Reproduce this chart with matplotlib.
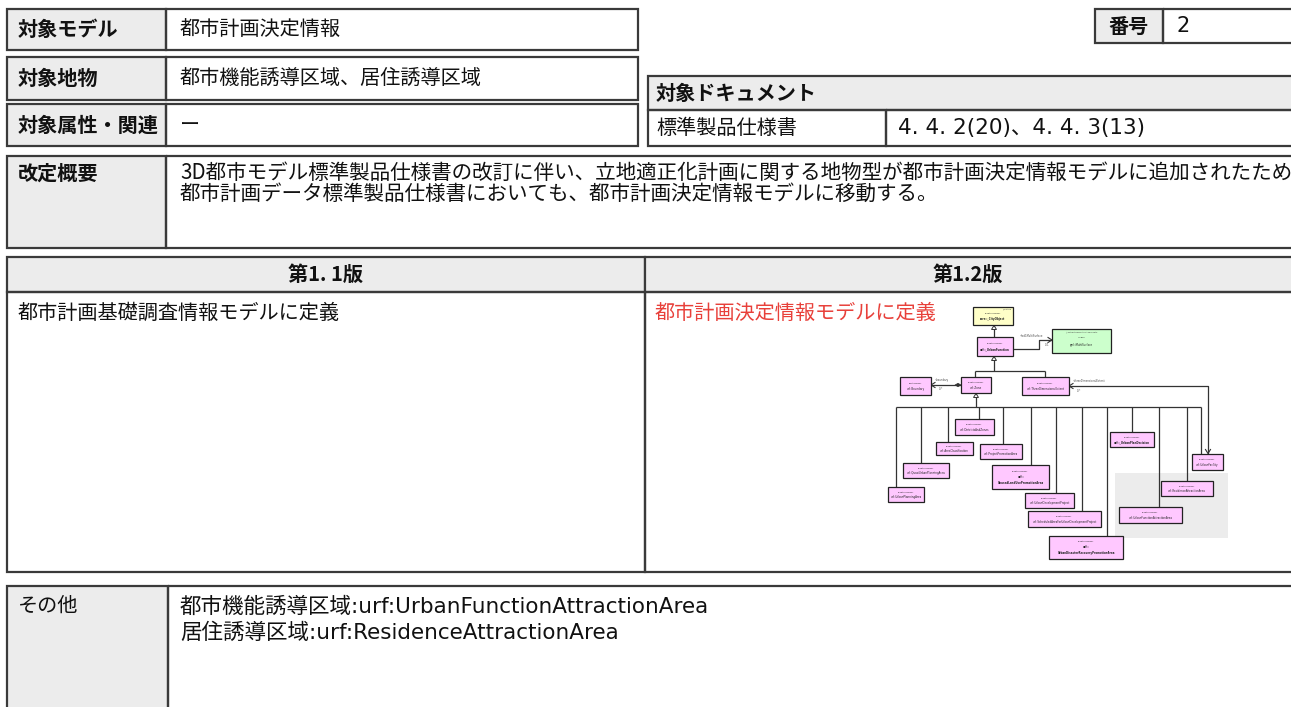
import matplotlib
matplotlib.use("Agg")
import matplotlib.pyplot as plt
from matplotlib.patches import Rectangle, Polygon
import math

plt.rcParams['font.family'] = ['Noto Sans CJK JP', 'DejaVu Sans']

# ---------------- content ----------------
header_labels = ["対象モデル", "対象地物", "対象属性・関連"]
header_values = ["都市計画決定情報", "都市機能誘導区域、居住誘導区域", "ー"]
number_label = "番号"
number_value = "2"
doc_title = "対象ドキュメント"
doc_name = "標準製品仕様書"
doc_sections = "4. 4. 2(20)、4. 4. 3(13)"
summary_label = "改定概要"
summary_lines = [
    "3D都市モデル標準製品仕様書の改訂に伴い、立地適正化計画に関する地物型が都市計画決定情報モデルに追加されたため",
    "都市計画データ標準製品仕様書においても、都市計画決定情報モデルに移動する。",
]
version_headers = ["第1. 1版", "第1.2版"]
version_old = "都市計画基礎調査情報モデルに定義"
version_new = "都市計画決定情報モデルに定義"
other_label = "その他"
other_lines = [
    "都市機能誘導区域:urf:UrbanFunctionAttractionArea",
    "居住誘導区域:urf:ResidenceAttractionArea",
]

# UML class boxes: (name lines, stereotype, fill, bold)
uml_names = {
    "city": (["core::_CityObject"], "«FeatureType»", "#ffffc8", True),
    "uf": (["urf::_UrbanFunction"], "«FeatureType»", "#ffc8ff", True),
    "ms": (["gml::MultiSurface"], "«Type»", "#ccffcc", False),
    "bnd": (["urf::Boundary"], "«DataType»", "#ffc8ff", False),
    "zone": (["urf::Zone"], "«FeatureType»", "#ffc8ff", False),
    "tde": (["urf::ThreeDimensionalExtent"], "«FeatureType»", "#ffc8ff", False),
    "dz": (["urf::DistrictsAndZones"], "«FeatureType»", "#ffc8ff", False),
    "ac": (["urf::AreaClassification"], "«FeatureType»", "#ffc8ff", False),
    "ppa": (["urf::ProjectPromotionArea"], "«FeatureType»", "#ffc8ff", False),
    "qupa": (["urf::QuasiUrbanPlanningArea"], "«FeatureType»", "#ffc8ff", False),
    "upa": (["urf::UrbanPlanningArea"], "«FeatureType»", "#ffc8ff", False),
    "ulu": (["urf::", "UnusedLandUsePromotionArea"], "«FeatureType»", "#ffc8ff", True),
    "udp": (["urf::UrbanDevelopmentProject"], "«FeatureType»", "#ffc8ff", False),
    "sa": (["urf::ScheduledAreaForUrbanDevelopmentProject"], "«FeatureType»", "#ffc8ff", False),
    "udr": (["urf::", "UrbanDisasterRecoveryPromotionArea"], "«FeatureType»", "#ffc8ff", True),
    "upd": (["urf::_UrbanPlanDecision"], "«FeatureType»", "#ffc8ff", True),
    "ufac": (["urf::UrbanFacility"], "«FeatureType»", "#ffc8ff", False),
    "raa": (["urf::ResidenceAttractionArea"], "«FeatureType»", "#ffc8ff", False),
    "ufaa": (["urf::UrbanFunctionAttractionArea"], "«FeatureType»", "#ffc8ff", False),
}

# ---------------- drawing ----------------
W, H = 1291, 707
fig = plt.figure(figsize=(W / 100, H / 100), dpi=100)
ax = fig.add_axes([0, 0, 1, 1])
ax.set_xlim(0, W)
ax.set_ylim(H, 0)
ax.axis('off')

GRAY = "#ececec"
EDGE = "#3a3a3a"
FS = 14.5
LATIN = ['DejaVu Sans', 'Noto Sans CJK JP']


def rect(x0, y0, x1, y1, fc="none", lw=1.6, ec=EDGE, z=1):
    ax.add_patch(Rectangle((x0, y0), x1 - x0, y1 - y0, facecolor=fc,
                           edgecolor=ec, linewidth=lw, zorder=z))


def txt(x, y, s, bold=False, color="#111111", ha="left", fs=FS, family=None):
    kw = {}
    if family is not None:
        kw["family"] = family
    ax.text(x, y, s, fontsize=fs, fontweight="bold" if bold else "normal",
            color=color, ha=ha, va="center", zorder=5, **kw)


# header rows
rows = [(9, 50), (57, 100), (104, 146)]
for (y0, y1), lab, val in zip(rows, header_labels, header_values):
    rect(7, y0, 166, y1, fc=GRAY)
    rect(166, y0, 638, y1)
    txt(18, (y0 + y1) / 2, lab, bold=True)
    txt(180, (y0 + y1) / 2, val)

# number box
rect(1095, 9, 1163, 43, fc=GRAY)
rect(1163, 9, 1295, 43)
txt(1108, 26, number_label, bold=True)
txt(1176, 26, number_value, family=LATIN, fs=15)

# document box
rect(648, 76, 1295, 110, fc=GRAY)
rect(648, 110, 886, 146)
rect(886, 110, 1295, 146)
txt(656, 93, doc_title, bold=True)
txt(656, 128, doc_name)
txt(898, 128, doc_sections, family=LATIN, fs=15.5)

# summary
rect(7, 156, 166, 248, fc=GRAY)
rect(166, 156, 1295, 248)
txt(18, 173, summary_label, bold=True)
for i, line in enumerate(summary_lines):
    txt(180, 173 + i * 21, line, fs=14.8)

# version table
rect(7, 257, 645, 292, fc=GRAY)
rect(645, 257, 1295, 292, fc=GRAY)
rect(7, 292, 645, 572)
rect(645, 292, 1295, 572)
txt(326, 274, version_headers[0], bold=True, ha="center")
txt(968, 274, version_headers[1], bold=True, ha="center")
txt(18, 313, version_old)
txt(655, 313, version_new, color="#e8403a")

# other
rect(7, 586, 168, 712, fc=GRAY)
rect(168, 586, 1295, 712)
txt(18, 606, other_label)
for i, line in enumerate(other_lines):
    txt(180, 607 + i * 26, line, family=LATIN, fs=15.5)

# ---------------- UML diagram ----------------
ax.add_patch(Rectangle((1115, 473), 113, 65, facecolor="#ececec",
                       edgecolor="none", zorder=2))

box_pos = {
    "city": (973, 307, 1013, 325),
    "uf": (977, 337, 1013, 356),
    "ms": (1052, 329, 1111, 353),
    "bnd": (900, 377, 931, 395),
    "zone": (961, 377, 991, 393),
    "tde": (1022, 377, 1069, 395),
    "dz": (955, 419, 994, 435),
    "ac": (936, 442, 973, 455),
    "ppa": (980, 444, 1022, 459),
    "qupa": (903, 463, 949, 478),
    "upa": (888, 487, 924, 502),
    "ulu": (992, 465, 1049, 489),
    "udp": (1025, 493, 1074, 508),
    "sa": (1028, 511, 1101, 527),
    "udr": (1049, 536, 1123, 559),
    "upd": (1110, 432, 1154, 447),
    "ufac": (1192, 454, 1223, 470),
    "raa": (1161, 481, 1213, 496),
    "ufaa": (1119, 507, 1182, 523),
}

LC = "#333333"


def line(xs, ys, lw=0.9):
    ax.plot(xs, ys, color=LC, linewidth=lw, zorder=3, solid_capstyle="butt")


def gen_arrow(x, y):
    ax.add_patch(Polygon([(x, y), (x - 2.5, y + 4), (x + 2.5, y + 4)],
                         closed=True, facecolor="white", edgecolor=LC,
                         linewidth=0.7, zorder=4))


def open_arrow(x, y, dx, dy):
    n = math.hypot(dx, dy)
    ux, uy = dx / n, dy / n
    px, py = -uy, ux
    L, Wd = 4, 2.5
    ax.plot([x - ux * L + px * Wd, x, x - ux * L - px * Wd],
            [y - uy * L + py * Wd, y, y - uy * L - py * Wd],
            color=LC, linewidth=0.8, zorder=4)


def small(x, y, s):
    ax.text(x, y, s, fontsize=1.8, color="#444", zorder=5, va="center",
            family="DejaVu Sans")


# generalization city <- uf
line([994, 994], [325, 337])
gen_arrow(994, 325.5)
# uf -> multisurface
line([1013, 1039, 1039, 1052], [349, 349, 340, 340])
open_arrow(1052, 340, 1, 0)
small(1020, 336, "+lod1MultiSurface")
small(1045, 345.5, "0..1")
# uf <- zone, tde
line([994, 994], [356, 371])
gen_arrow(994, 356.5)
line([975, 1045], [371, 371])
line([975, 975], [371, 377])
line([1045, 1045], [371, 377])
# zone -> boundary (composition)
line([931, 961], [385, 385])
ax.add_patch(Polygon([(961, 385), (958, 383.3), (955, 385), (958, 386.7)],
                     closed=True, facecolor=LC, edgecolor=LC, lw=0.5, zorder=4))
open_arrow(931, 385, -1, 0)
small(935, 380, "+boundary")
small(939, 389.5, "0..*")
# zone <- subclasses bus
line([976, 976], [393, 407])
gen_arrow(976, 393.5)
line([896, 1201], [407, 407])
drops = {"upa": 896, "qupa": 921, "ac": 948, "dz": 979, "ppa": 1003,
         "ulu": 1031, "udp": 1056, "sa": 1082, "udr": 1107, "upd": 1132,
         "ufaa": 1159, "raa": 1187, "ufac": 1201}
for key, xd in drops.items():
    line([xd, xd], [407, box_pos[key][1]])
# urban facility -> three dimensional extent
line([1069, 1208, 1208], [386, 386, 454])
open_arrow(1069, 386, -1, 0)
open_arrow(1208, 453.5, 0, 1)
small(1073, 381.5, "+threeDimensionalExtent")
small(1077, 390.5, "0..*")

# boxes
for key, (x0, y0, x1, y1) in box_pos.items():
    names, stereo, fc, bold = uml_names[key]
    ax.add_patch(Rectangle((x0, y0), x1 - x0, y1 - y0, facecolor=fc,
                           edgecolor="#222222", linewidth=0.9, zorder=4))
    cx = (x0 + x1) / 2
    lines = [stereo] + names
    n = len(lines)
    h = y1 - y0
    for i, s in enumerate(lines):
        yy = y0 + h * (i + 1) / (n + 1)
        ax.text(cx, yy, s, fontsize=1.9 if i else 1.6,
                fontweight="bold" if (bold and i) else "normal",
                color="#222", ha="center", va="center", zorder=5,
                family="DejaVu Sans")
ax.text(1011, 309, "_Feature", fontsize=1.5, color="#444", ha="right",
        va="center", zorder=5, family="DejaVu Sans")
ax.text(1081, 332, "_AbstractGeometricAggregate", fontsize=1.5, color="#444",
        ha="center", va="center", zorder=5, family="DejaVu Sans")

fig.savefig("out.png", dpi=100)
